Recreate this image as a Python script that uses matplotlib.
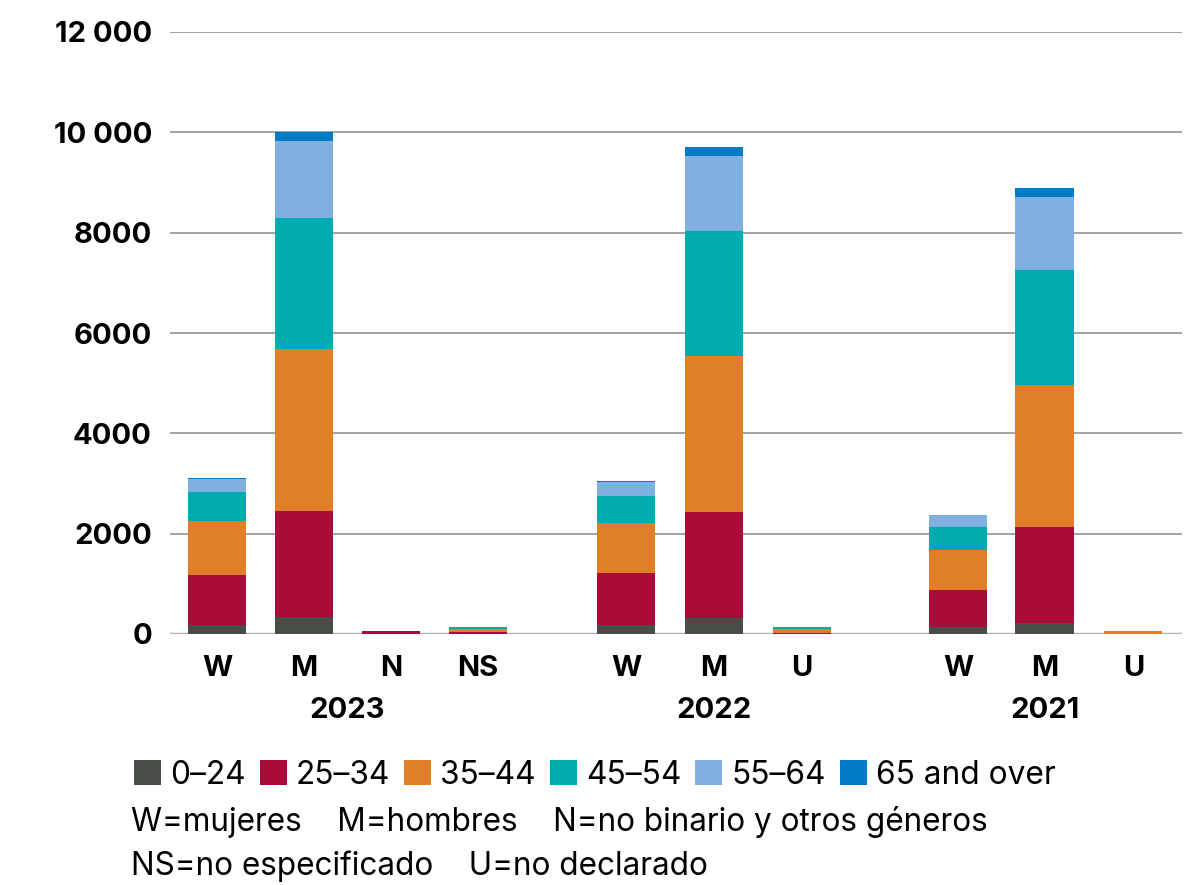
import matplotlib
matplotlib.use("Agg")
import matplotlib.pyplot as plt
from matplotlib.patches import Patch
import numpy as np

# ---- data ----
categories = ["W", "M", "N", "NS", "W", "M", "U", "W", "M", "U"]
years = ["2023", "2022", "2021"]
year_groups = [[0, 1, 2, 3], [4, 5, 6], [7, 8, 9]]
age_groups = ["0–24", "25–34", "35–44", "45–54", "55–64", "65 and over"]
colors = ["#484d46", "#a80d3a", "#e07f27", "#00abaf", "#7fb0e0", "#007bc5"]

v_0_24 = [175, 335, 0, 5, 189, 309, 5, 135, 229, 0]
v_25_34 = [1010, 2125, 50, 25, 1036, 2119, 20, 738, 1899, 0]
v_35_44 = [1076, 3227, 0, 65, 982, 3108, 73, 797, 2828, 60]
v_45_54 = [578, 2610, 0, 40, 552, 2502, 40, 458, 2305, 0]
v_55_64 = [259, 1534, 0, 0, 279, 1494, 0, 239, 1454, 0]
v_65 = [20, 173, 0, 0, 10, 179, 0, 13, 179, 0]
series = [v_0_24, v_25_34, v_35_44, v_45_54, v_55_64, v_65]

yticks = [0, 2000, 4000, 6000, 8000, 10000, 12000]
ytick_labels = ["0", "2000", "4000", "6000", "8000", "10 000", "12 000"]

notes_line1 = "W=mujeres    M=hombres    N=no binario y otros géneros"
notes_line2 = "NS=no especificado    U=no declarado"

# ---- layout ----
x = np.array([0, 1, 2, 3, 4.7, 5.71, 6.72, 8.52, 9.51, 10.53])

fig = plt.figure(figsize=(12.04, 8.85), dpi=100)
ax = fig.add_axes([170/1204, (885-634)/885, (1182-170)/1204, (634-32)/885])

bold = {"family": "Inter", "weight": "bold"}
reg = {"family": "Inter"}

bottom = np.zeros(len(categories))
for vals, c, lab in zip(series, colors, age_groups):
    vals = np.array(vals, dtype=float)
    ax.bar(x, vals, bottom=bottom, width=0.667, color=c, label=lab, zorder=3, linewidth=0)
    bottom += vals

ax.set_ylim(0, 12000)
ax.set_xlim(-0.54, 11.09)
ax.set_yticks(yticks)
ax.set_yticklabels(ytick_labels, fontsize=21, **bold)
ax.tick_params(axis="y", length=0, pad=13)
ax.tick_params(axis="x", length=0)
ax.set_xticks([])
for s in ax.spines.values():
    s.set_visible(False)
for yv in yticks[1:]:
    ax.axhline(yv, color="#8a8a8a", linewidth=1.1, zorder=1)
ax.axhline(0, color="#b5b5b5", linewidth=2.5, zorder=2)

trans = ax.get_xaxis_transform()
for xi, cat in zip(x, categories):
    ax.text(xi, -34/602, cat, transform=trans, ha="center", va="center", fontsize=21, **bold)
for yr, grp in zip(years, year_groups):
    ax.text(x[grp].mean(), -76/602, yr, transform=trans, ha="center", va="center", fontsize=21, **bold)

handles = [Patch(facecolor=c, edgecolor="none") for c in colors]
leg = fig.legend(handles, age_groups, loc="center left", bbox_to_anchor=(134/1204, 1-775/885),
                 ncol=6, frameon=False, prop={"family": "Inter", "size": 22.8},
                 handlelength=0.85, handleheight=0.85, handletextpad=0.3, columnspacing=0.43,
                 borderpad=0, borderaxespad=0)

fig.text(131/1204, 1-822/885, notes_line1, ha="left", va="center", fontsize=22.7, **reg)
fig.text(131/1204, 1-866/885, notes_line2, ha="left", va="center", fontsize=22.7, **reg)

fig.savefig("out.png", dpi=100)
